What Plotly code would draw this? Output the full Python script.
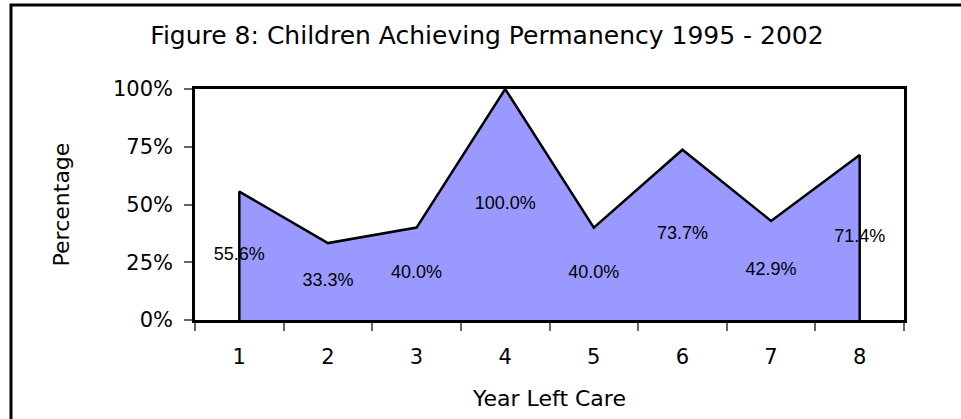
import plotly.graph_objects as go

categories = ["1", "2", "3", "4", "5", "6", "7", "8"]
values = [55.6, 33.3, 40.0, 100.0, 40.0, 73.7, 42.9, 71.4]
y_ticks = [0, 25, 50, 75, 100]
y_tick_labels = ["0%", "25%", "50%", "75%", "100%"]

TICK_FONT = "DejaVu Sans"
LABEL_FONT = "Liberation Sans, Arial"

# closed polygon built from the data (down to zero at first and last category)
poly_x = [categories[0]] + categories + [categories[-1]]
poly_y = [0] + values + [0]

fig = go.Figure()
fig.add_trace(go.Scatter(
    x=poly_x, y=poly_y, mode="lines", fill="toself",
    fillcolor="#9999FF", line=dict(color="black", width=2.5),
    hoverinfo="skip", showlegend=False,
))
fig.add_trace(go.Scatter(
    x=categories, y=[v / 2 for v in values], mode="text",
    text=[f"{v:.1f}%" for v in values],
    textfont=dict(family=LABEL_FONT, size=18, color="black"),
    textposition="middle center", showlegend=False, hoverinfo="skip",
))

W, H = 961, 419
L, T, R, B = 195, 89, 57, 99
pw, ph = W - L - R, H - T - B

fig.update_layout(
    width=W, height=H,
    margin=dict(l=L, r=R, t=T, b=B),
    paper_bgcolor="white", plot_bgcolor="white",
    title=dict(text="Figure 8: Children Achieving Permanency 1995 - 2002",
               x=487 / W, xref="container", xanchor="center", y=1 - 35 / H, yanchor="middle",
               font=dict(family=TICK_FONT, size=25, color="black")),
    xaxis=dict(type="category", categoryorder="array", categoryarray=categories,
               range=[-0.5, 7.5], tickson="boundaries", ticks="outside", ticklen=8,
               tickcolor="#666666", tickwidth=1.5, ticklabelstandoff=16,
               showline=True, linecolor="black", linewidth=2.5, mirror=True,
               showgrid=False, zeroline=False,
               tickfont=dict(family=TICK_FONT, size=21, color="black"),
               title=dict(text="Year Left Care", standoff=23,
                          font=dict(family=TICK_FONT, size=22, color="black"))),
    yaxis=dict(range=[0, 100], tickvals=y_ticks, ticktext=y_tick_labels,
               ticks="outside", ticklen=8, tickcolor="#666666", tickwidth=1.5,
               ticklabelstandoff=7,
               showline=True, linecolor="black", linewidth=2.5, mirror=True,
               showgrid=False, zeroline=False,
               tickfont=dict(family=TICK_FONT, size=21, color="black"),
               title=dict(text="Percentage", standoff=38,
                          font=dict(family=TICK_FONT, size=22, color="black"))),
    shapes=[dict(type="rect", xref="paper", yref="paper",
                 x0=-(L - 11) / pw, x1=1.2, y0=-0.6, y1=1 + (T - 5) / ph,
                 line=dict(color="black", width=3), fillcolor="rgba(0,0,0,0)",
                 layer="above")],
)

fig.write_html("out.html", config={"displayModeBar": False},
               post_script="document.body.style.margin='0';")
